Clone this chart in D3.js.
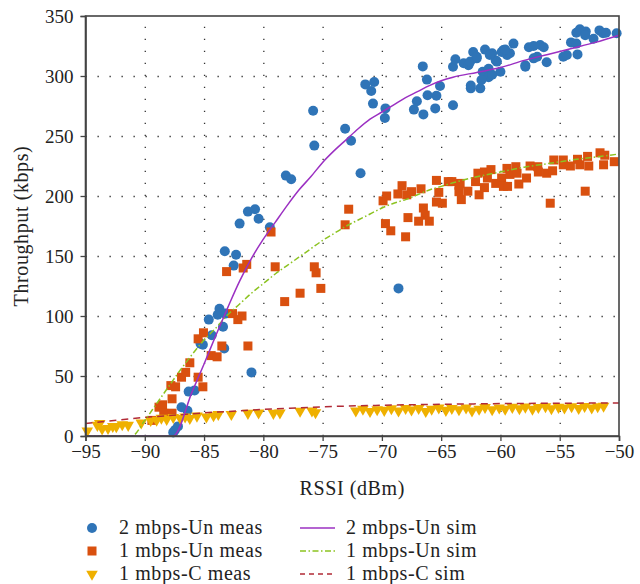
<!DOCTYPE html>
<html><head><meta charset="utf-8">
<script src="https://cdn.jsdelivr.net/npm/d3@7"></script>
<style>
body{margin:0;background:#fff;}
svg{display:block;}
</style></head>
<body><svg id="c" width="640" height="584"></svg>
<script>
// ---------- data ----------
const xTicks = [-95,-90,-85,-80,-75,-70,-65,-60,-55,-50];
const yTicks = [0,50,100,150,200,250,300,350];

const meas2Un = [
[-87.6,3],[-87.45,5],[-87.2,8],[-86.9,24],[-86.4,21],[-86.3,37],[-85.8,38],[-85.3,77],[-85.1,76],
[-84.6,97],[-84.35,84],[-83.85,101],[-83.7,106],[-83.4,91],[-83.3,73],[-83.2,102],[-83.25,154],
[-82.5,142],[-82.3,151],[-82.0,177],[-81.3,187],[-81.0,53],[-80.7,189],[-80.4,181],[-79.45,174],
[-78.1,217],[-77.65,214],[-75.8,271],[-75.7,242],[-73.1,256],[-72.6,246],[-71.8,219],[-71.4,293],
[-70.65,295],[-70.9,287.5],[-70.75,277],[-69.7,273],[-69.75,265],[-68.6,123],[-67.3,272],[-67.05,279],
[-66.5,268],[-66.2,297],[-66.55,308],[-66.15,284],[-65.5,273],[-65.4,283.6],[-65.1,291.7],[-64.0,275.6],
[-64.0,307.7],[-63.8,314],[-63.1,310.6],[-62.7,309],[-62.55,312],[-62.3,320],[-62.5,289.7],[-62.5,292],
[-61.7,289.7],[-62.0,314.7],[-62.0,316],[-61.5,303.6],[-61.3,322],[-61.0,306],[-61.15,301],[-61.3,301],
[-61.0,299],[-60.7,319],[-60.4,313],[-60.0,303.6],[-60.3,312],[-59.75,321.7],[-59.45,317.5],[-58.9,327],
[-59.2,319],[-60.7,301],[-61.6,296.7],[-60.9,317.5],[-59.9,320],[-59.6,322],[-57.9,307.7],[-57.9,309],
[-57.6,324],[-57.2,314.7],[-57.2,325],[-56.65,325.8],[-56.35,324],[-56.1,311.4],[-56.9,316],[-54.7,316],
[-54.4,317.5],[-54.05,328],[-53.6,327],[-53.5,318],[-53.6,336],[-53.3,339],[-52.8,337],[-52.85,334],
[-52.15,331],[-51.65,338],[-51.35,335.6],[-51.1,336],[-50.2,335.6]
];

const meas1Un = [
[-89.4,13],[-88.8,24],[-88.5,26],[-88.4,19],[-87.8,42],[-87.7,31],[-87.7,19],[-87.4,41],[-86.9,49],
[-86.55,53],[-86.2,61],[-85.5,81],[-85.05,86],[-85.5,49],[-85.1,41],[-84.4,67],[-83.9,66],[-83.5,75],
[-83.1,137],[-82.6,102],[-82.15,97],[-81.8,100],[-81.7,140],[-81.4,143],[-81.3,75],[-79.35,170],
[-79.0,141],[-78.2,112],[-76.9,119],[-75.7,141],[-75.55,136],[-75.15,123],[-72.8,189],[-73.1,176],
[-69.9,196],[-69.6,200],[-69.7,177],[-69.25,171],[-68.0,166],[-68.3,208.6],[-68.65,201.7],[-67.9,201],
[-67.5,203.6],[-66.7,206],[-66.5,190],[-66.35,184],[-67.8,182],[-66.9,179],[-66.0,179],[-65.4,213],
[-65.2,203],[-65.4,195],[-64.9,194],[-64.4,212],[-64.1,212],[-63.5,203.6],[-63.3,197],[-63.5,209],
[-63.4,210.5],[-62.75,204],[-62.1,212],[-61.9,219],[-61.8,201],[-61.35,220],[-61.35,207],[-60.8,222],
[-61.1,215],[-60.4,210.5],[-59.9,215],[-59.75,208],[-59.45,223],[-59.4,208],[-59.2,218],[-58.7,224.4],
[-58.6,219],[-58.45,210],[-57.8,215],[-57.5,225],[-56.85,224.4],[-56.8,220],[-56.1,219],[-55.8,194],
[-55.5,230],[-55.6,221],[-54.7,230],[-54.7,226],[-54.1,225],[-53.5,230.6],[-53.3,226],[-52.85,204],
[-52.65,233],[-52.55,225],[-51.6,236],[-51.3,226],[-51.2,234],[-50.4,228.6]
];

const meas1C = [
[-94.85,4.4],[-94.0,9],[-93.8,10.6],[-93.6,6],[-93.1,6.4],[-92.7,8],[-92.4,7.8],[-91.9,9.5],[-91.4,9],
[-90.3,11],[-89.5,13],[-89.0,13.3],[-88.6,15],[-88.15,14],[-87.6,15.5],[-87.0,14.7],[-86.6,16],[-86.2,14.7],
[-85.6,16.7],[-84.8,16],[-84.2,17],[-83.8,18],[-82.7,18],[-81.3,19],[-80.4,19.4],[-79.15,19],[-78.6,19.4],
[-76.9,20.8],[-75.9,21],[-75.6,19.5],[-72.2,21],[-71.6,22.5],[-71.0,20.5],[-70.4,22],[-69.8,21.5],[-69.2,22.8],
[-68.6,21],[-68.0,23],[-67.5,21.8],[-66.9,23],[-66.3,20.5],[-65.8,22.5],[-65.2,23.5],[-64.6,21.5],[-64.1,23],
[-63.5,22],[-62.9,23.5],[-62.4,21],[-61.8,22.5],[-61.3,23.8],[-60.7,22],[-60.1,23.5],[-59.6,22.5],[-59.0,24],
[-58.4,22.8],[-57.9,24.2],[-57.3,22.5],[-56.8,23.8],[-56.2,24.5],[-55.7,22.8],[-55.1,24],[-54.6,23.5],
[-54.0,24.5],[-53.4,23],[-52.9,24.8],[-52.3,23.5],[-51.8,24.5],[-51.3,25]
];

const sim2Un = [
[-95,0],[-87.6,0],[-86,37],[-85,60],[-84,84],[-83,107],[-82,129],[-81,148],[-80,164],[-79,178],[-78,192],
[-77,205],[-76,216],[-75,228],[-74,238],[-73,247],[-72,256],[-71,264],[-70,270],[-69,276],[-68,282],
[-67,287],[-66,292],[-65,296],[-64,299],[-62,303],[-60,307],[-58,313],[-56,318],[-54,323],[-52,328],[-50,334]
];
const sim1Un = [
[-95,0],[-91.1,0],[-90,13],[-89,27],[-88,41],[-87,55],[-86,68],[-85,80],[-84,90],[-83,101],[-82,110],
[-81,119],[-80,127],[-79,135],[-78,142],[-77,149],[-76,156],[-75,163],[-74,169],[-73,175],[-72,180],
[-71,185],[-70,190],[-69,194],[-68,197],[-67,201],[-66,205],[-65,208],[-64,211],[-62,216],[-60,220],
[-58,224],[-56,227],[-54,230],[-52,232.5],[-50,235]
];
const sim1C = [
[-95,10.5],[-92,13.5],[-90,15.5],[-87,17.7],[-85,19.3],[-82,21],[-80,22.2],[-77,23.5],[-75,24.3],
[-70,25.6],[-65,26.4],[-60,27],[-55,27.3],[-50,27.6]
];

const legendLabels = ["2 mbps-Un meas","1 mbps-Un meas","1 mbps-C meas","2 mbps-Un sim","1 mbps-Un sim","1 mbps-C sim"];

// ---------- drawing ----------
const FONT = 'Liberation Serif, DejaVu Serif, Noto Serif, FreeSerif, Nimbus Roman, Times, serif';
const C = {blue:"#2F74B7", orange:"#D9500F", yellow:"#EFB000", purple:"#9B30C2", green:"#8CC321", red:"#B12A36"};
const svg = d3.select("#c");
const L=85.5, R=619, T=16, B=436;
const x = d3.scaleLinear().domain([-95,-50]).range([L,R]);
const y = d3.scaleLinear().domain([0,350]).range([B,T]);

// grid
const grid = svg.append("g");
grid.append("g").attr("transform",`translate(0,${B})`)
  .call(d3.axisBottom(x).tickValues(xTicks.slice(1,-1)).tickSize(-(B-T)).tickFormat(""))
  .call(g=>g.select(".domain").remove())
  .call(g=>g.selectAll("line").attr("stroke","#333").attr("stroke-width",1.3).attr("stroke-dasharray","1.3,10.7"));
grid.append("g").attr("transform",`translate(${L},0)`)
  .call(d3.axisLeft(y).tickValues(yTicks.slice(1,-1)).tickSize(-(R-L)).tickFormat(""))
  .call(g=>g.select(".domain").remove())
  .call(g=>g.selectAll("line").attr("stroke","#333").attr("stroke-width",1.3).attr("stroke-dasharray","1.3,10.7"));

// markers
const pts = svg.append("g");
pts.selectAll("circle.b").data(meas2Un).join("circle").attr("class","b")
  .attr("cx",d=>x(d[0])).attr("cy",d=>y(d[1])).attr("r",5).attr("fill",C.blue);
pts.selectAll("rect.o").data(meas1Un).join("rect").attr("class","o")
  .attr("x",d=>x(d[0])-4.5).attr("y",d=>y(d[1])-4.5).attr("width",9).attr("height",9).attr("fill",C.orange);
const tri = d3.symbol().type(d3.symbolTriangle).size(58);
pts.selectAll("path.t").data(meas1C).join("path").attr("class","t")
  .attr("d",tri).attr("transform",d=>`translate(${x(d[0])},${y(d[1])}) rotate(180)`).attr("fill",C.yellow);

// sim lines
const line = d3.line().x(d=>x(d[0])).y(d=>y(d[1])).curve(d3.curveMonotoneX);
const lines = svg.append("g").attr("fill","none");
lines.append("path").datum(sim1C).attr("d",line).attr("stroke",C.red).attr("stroke-width",1.5).attr("stroke-dasharray","7,5");
lines.append("path").datum(sim1Un).attr("d",line).attr("stroke",C.green).attr("stroke-width",1.5).attr("stroke-dasharray","6,2.5,1.5,2.5");
lines.append("path").datum(sim2Un).attr("d",line).attr("stroke",C.purple).attr("stroke-width",1.5);

// frame
svg.append("rect").attr("x",L).attr("y",T).attr("width",R-L).attr("height",B-T)
  .attr("fill","none").attr("stroke","#444").attr("stroke-width",1.6);

// axes
const ax = svg.append("g").attr("transform",`translate(0,${B})`)
  .call(d3.axisBottom(x).tickValues(xTicks).tickSize(5).tickPadding(4));
const ay = svg.append("g").attr("transform",`translate(${L},0)`)
  .call(d3.axisLeft(y).tickValues(yTicks).tickSize(5).tickPadding(7));
[ax,ay].forEach(g=>{
  g.attr("font-family",FONT).attr("font-size",19);
  g.select(".domain").attr("stroke","#444").attr("stroke-width",1.6);
  g.selectAll(".tick line").attr("stroke","#444").attr("stroke-width",1.3);
  g.selectAll(".tick text").style("font-family",FONT).attr("fill","#222");
});

// titles
svg.append("text").attr("x",(L+R)/2).attr("y",495).attr("text-anchor","middle").attr("fill","#222")
  .style("font-family",FONT).style("font-size","20px").style("letter-spacing","0.6px").text("RSSI (dBm)");
svg.append("text").attr("transform",`translate(28,${(T+B)/2}) rotate(-90)`).attr("text-anchor","middle").attr("fill","#222")
  .style("font-family",FONT).style("font-size","20px").style("letter-spacing","0.6px").text("Throughput (kbps)");

// legend
const rows=[528,551,574];
const lg = svg.append("g");
lg.append("circle").attr("cx",92).attr("cy",rows[0]).attr("r",5).attr("fill",C.blue);
lg.append("rect").attr("x",87.5).attr("y",rows[1]-4.5).attr("width",9).attr("height",9).attr("fill",C.orange);
lg.append("path").attr("d",tri).attr("transform",`translate(92,${rows[2]}) rotate(180)`).attr("fill",C.yellow);
const ls=[{c:C.purple,d:null},{c:C.green,d:"6,2.5,1.5,2.5"},{c:C.red,d:"5,4"}];
ls.forEach((s,i)=>{
  const p=lg.append("line").attr("x1",300).attr("x2",335).attr("y1",rows[i]).attr("y2",rows[i])
    .attr("stroke",s.c).attr("stroke-width",1.5);
  if(s.d) p.attr("stroke-dasharray",s.d);
});
legendLabels.forEach((t,i)=>{
  lg.append("text").attr("x",i<3?119:346).attr("y",rows[i%3]+6).attr("fill","#222")
    .style("font-family",FONT).style("font-size","20px").style("letter-spacing","0.6px").text(t);
});
</script></body></html>
